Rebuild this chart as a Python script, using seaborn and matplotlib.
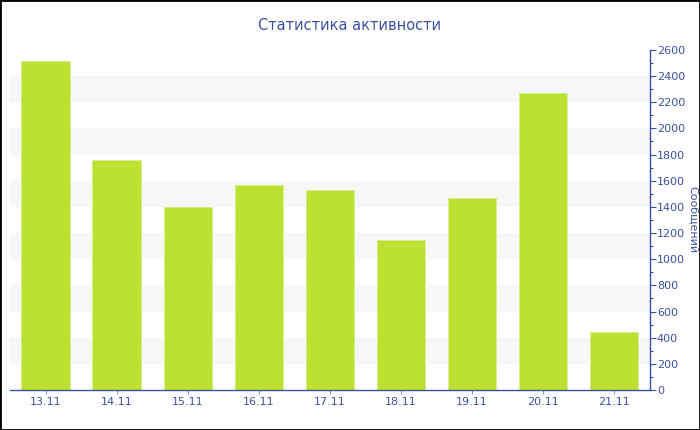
import matplotlib
matplotlib.use('Agg')
import matplotlib.pyplot as plt
import seaborn as sns
import pandas as pd
from matplotlib.ticker import MultipleLocator

# data
days = ['13.11', '14.11', '15.11', '16.11', '17.11', '18.11', '19.11', '20.11', '21.11']
messages = [2515, 1758, 1400, 1567, 1530, 1148, 1468, 2272, 443]
y_ticks = list(range(0, 2601, 200))

text_color = '#3d51a3'
bar_color = '#bde130'

sns.set_theme(style='white')
plt.rcParams['font.family'] = ['DejaVu Sans']

df = pd.DataFrame({'day': days, 'messages': messages})

fig = plt.figure(figsize=(7, 4.3), dpi=100)
ax = fig.add_axes([0.0143, 0.093, 0.914, 0.791])

# alternating light bands
for lo in y_ticks[1::2]:
    ax.axhspan(lo, lo + 200, color='#f7f7f7', zorder=0, lw=0)

sns.barplot(data=df, x='day', y='messages', color=bar_color, saturation=1,
            width=0.68, ax=ax, zorder=2, edgecolor='#d8ee8a', linewidth=0.6)

ax.set_ylim(0, 2600)
ax.set_xlim(-0.5, len(days) - 0.5)
ax.yaxis.tick_right()
ax.yaxis.set_label_position('right')
ax.set_yticks(y_ticks)
ax.yaxis.set_minor_locator(MultipleLocator(100))
ax.set_xlabel('')
ax.set_ylabel('Сообщений', color=text_color, fontsize=8, rotation=270, va='center')
ax.yaxis.set_label_coords(1.067, 0.5)

for s in ['top', 'left']:
    ax.spines[s].set_visible(False)
for s in ['right', 'bottom']:
    ax.spines[s].set_color(text_color)
    ax.spines[s].set_linewidth(1)

ax.tick_params(axis='y', which='major', direction='out', length=4, width=0.8,
               color=text_color, labelcolor=text_color, labelsize=8, pad=1, right=True)
ax.tick_params(axis='y', which='minor', direction='out', length=2.5, width=0.8,
               color=text_color, right=True)
ax.tick_params(axis='x', direction='out', length=3, width=0.8, color='#8a98c8',
               labelcolor=text_color, labelsize=8, pad=2, bottom=True)

fig.text(0.5, 0.94, 'Статистика активности', ha='center', va='center',
         color=text_color, fontsize=10.5)

# thin black frame around the whole image
fig.patches.append(plt.Rectangle((0, 0), 1, 1, transform=fig.transFigure,
                                 fill=False, edgecolor='black', linewidth=2))

fig.savefig('out.png', dpi=100)
